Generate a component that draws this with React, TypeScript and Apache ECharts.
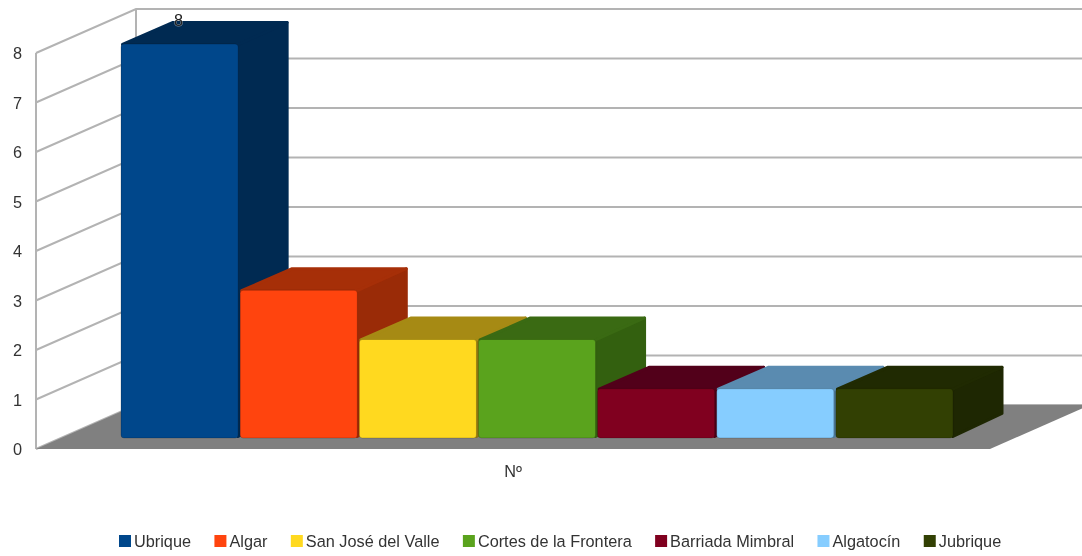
import React, { useEffect, useRef } from "react";
import * as echarts from "echarts";

const seriesNames = ["Ubrique", "Algar", "San José del Valle", "Cortes de la Frontera", "Barriada Mimbral", "Algatocín", "Jubrique"];
const seriesValues = [8, 3, 2, 2, 1, 1, 1];
const frontColors = ["#00478b", "#ff440e", "#ffd91f", "#5aa31d", "#80001f", "#86cdff", "#324003"];
const topColors = ["#002a52", "#a62f08", "#a68a14", "#3a6a13", "#52001a", "#5a8bb0", "#202a02"];
const sideColors = ["#002a52", "#9a2b07", "#8f7611", "#33600f", "#4a0015", "#4f7c9c", "#1e2702"];
const labelledSeries = ["Ubrique"];
const axisCategory = ["Nº"];
const tickValues = [0, 1, 2, 3, 4, 5, 6, 7, 8];

const WALL_DX = 100;
const WALL_DY = -44;
const BAR_DX = 50.5;
const BAR_DY = -23;
const INSET = 1.5;
const GRID_COLOR = "#b3b3b3";

function wallItem(_params: any, api: any) {
  const v = api.value(0);
  const centre = api.coord([0, v]);
  const width = api.size([1, 0])[0];
  const x = centre[0] - width / 2;
  const y = centre[1];
  return {
    type: "polyline",
    shape: { points: [[x, y], [x + WALL_DX, y + WALL_DY], [x + width + WALL_DX, y + WALL_DY]] },
    style: { stroke: GRID_COLOR, lineWidth: 2, fill: "none" },
  };
}

function frameItem(_params: any, api: any) {
  const bottom = api.coord([0, 0]);
  const top = api.coord([0, 8]);
  const width = api.size([1, 0])[0];
  const x = bottom[0] - width / 2;
  return {
    type: "group",
    children: [
      { type: "line", shape: { x1: x, y1: bottom[1], x2: x, y2: top[1] }, style: { stroke: GRID_COLOR, lineWidth: 2 } },
      { type: "line", shape: { x1: x + WALL_DX, y1: bottom[1] + WALL_DY, x2: x + WALL_DX, y2: top[1] + WALL_DY }, style: { stroke: GRID_COLOR, lineWidth: 2 } },
      {
        type: "polygon",
        shape: {
          points: [
            [x, bottom[1]],
            [x + width, bottom[1]],
            [x + width + WALL_DX, bottom[1] + WALL_DY],
            [x + WALL_DX, bottom[1] + WALL_DY],
          ],
        },
        style: { fill: "#808080" },
      },
    ],
  };
}

function barItem(index: number) {
  return (_params: any, api: any) => {
    const top = api.coord([index, api.value(1)]);
    const base = api.coord([index, 0]);
    const band = api.size([1, 0])[0];
    const w = band - 2;
    const x0 = top[0] - w / 2;
    const x1 = top[0] + w / 2;
    const backTop = top[1] + BAR_DY + INSET;
    const backRight = x1 + BAR_DX - INSET;
    const children: any[] = [
      {
        type: "polygon",
        shape: { points: [[x1, top[1]], [backRight, backTop], [backRight, base[1] + BAR_DY - INSET], [x1, base[1] - INSET]] },
        style: { fill: sideColors[index], stroke: sideColors[index], lineWidth: INSET * 2, lineJoin: "round" },
      },
      {
        type: "polygon",
        shape: { points: [[x0 + INSET, top[1] + 0.5], [x0 + BAR_DX + INSET, backTop], [backRight, backTop], [x1, top[1] + 0.5]] },
        style: { fill: topColors[index], stroke: topColors[index], lineWidth: INSET * 2, lineJoin: "round" },
      },
      {
        type: "rect",
        shape: { x: x0, y: top[1], width: w, height: base[1] - top[1], r: 3 },
        style: { fill: frontColors[index], stroke: "rgba(0,0,0,0.18)", lineWidth: 1 },
      },
    ];
    if (labelledSeries.includes(seriesNames[index])) {
      children.push({
        type: "text",
        style: {
          text: String(api.value(1)),
          x: top[0] - 1,
          y: top[1] - 24,
          align: "center",
          verticalAlign: "middle",
          fill: "#222222",
          stroke: "rgba(255,255,255,0.45)",
          lineWidth: 1,
          font: '16.3px "Liberation Sans"',
        },
      });
    }
    return { type: "group", children };
  };
}

export default function App() {
  const ref = useRef<HTMLDivElement>(null);
  useEffect(() => {
    document.body.style.margin = "0";
    const chart = echarts.init(ref.current!, undefined, { renderer: "svg" });
    const textStyle = { fontFamily: "Liberation Sans", fontSize: 16.3, color: "#333333" };
    chart.setOption({
      animation: false,
      backgroundColor: "#ffffff",
      color: frontColors,
      legend: {
        data: seriesNames,
        bottom: 2,
        left: 114,
        itemWidth: 12,
        itemHeight: 12,
        itemGap: 23.4,
        icon: "rect",
        textStyle: { ...textStyle, padding: [0, 0, 0, -2] },
        selectedMode: false,
      },
      grid: [
        { left: 36, right: 92, top: 53, bottom: 107 },
        { left: 120, right: 128, top: 44, bottom: 118 },
      ],
      xAxis: [
        {
          type: "category",
          gridIndex: 0,
          data: axisCategory,
          axisLine: { show: false },
          axisTick: { show: false },
          axisLabel: { ...textStyle, margin: 14 },
        },
        { type: "category", gridIndex: 1, data: seriesNames, show: false },
      ],
      yAxis: [
        {
          type: "value",
          gridIndex: 0,
          min: 0,
          max: 8,
          interval: 1,
          axisLine: { show: false },
          axisTick: { show: false },
          splitLine: { show: false },
          axisLabel: { ...textStyle, margin: 14 },
        },
        { type: "value", gridIndex: 1, min: 0, max: 8, interval: 1, show: false, splitLine: { show: false } },
      ],
      series: [
        {
          type: "custom",
          silent: true,
          xAxisIndex: 0,
          yAxisIndex: 0,
          data: tickValues.map((v) => [v]),
          encode: { y: 0 },
          renderItem: wallItem,
          z: 1,
        },
        {
          type: "custom",
          silent: true,
          xAxisIndex: 0,
          yAxisIndex: 0,
          data: [[0]],
          encode: { y: 0 },
          renderItem: frameItem,
          z: 2,
        },
        ...seriesNames.map((name, i) => ({
          type: "custom",
          name,
          xAxisIndex: 1,
          yAxisIndex: 1,
          data: [[i, seriesValues[i]]],
          encode: { x: 0, y: 1 },
          itemStyle: { color: frontColors[i] },
          renderItem: barItem(i),
          z: 3,
        })),
      ],
    });
    return () => chart.dispose();
  }, []);
  return <div ref={ref} style={{ width: 1082, height: 556, filter: "blur(0.4px)" }} />;
}
